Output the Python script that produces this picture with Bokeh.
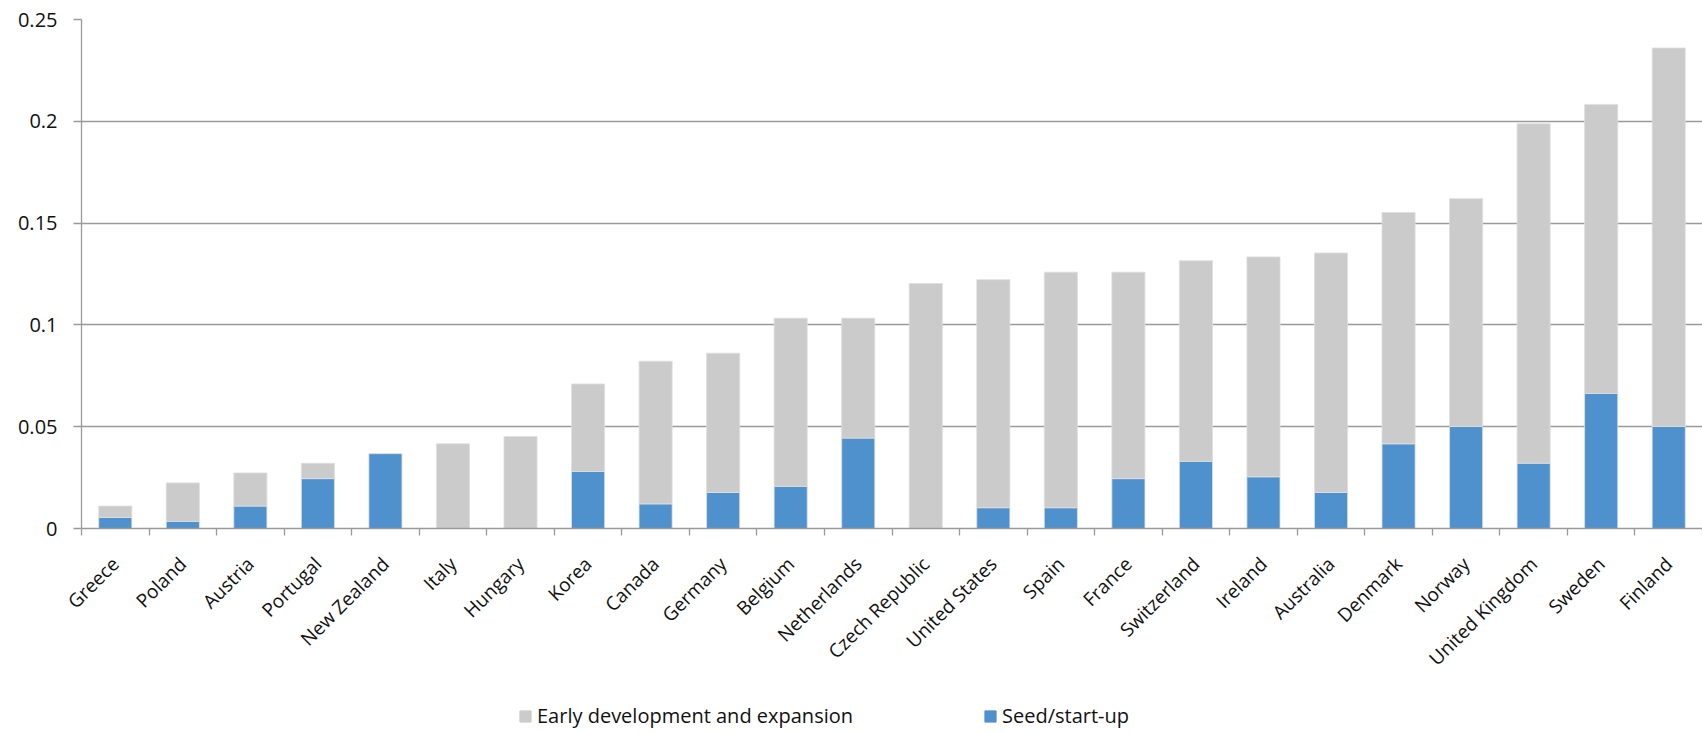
import math
from bokeh.plotting import figure
from bokeh.layouts import column
from bokeh.models import (ColumnDataSource, FixedTicker, Legend, LegendItem, Range1d)
from bokeh.embed import file_html
from bokeh.resources import INLINE

countries = ["Greece", "Poland", "Austria", "Portugal", "New Zealand", "Italy", "Hungary",
             "Korea", "Canada", "Germany", "Belgium", "Netherlands", "Czech Republic",
             "United States", "Spain", "France", "Switzerland", "Ireland", "Australia",
             "Denmark", "Norway", "United Kingdom", "Sweden", "Finland"]
seed = [0.0054, 0.0035, 0.0110, 0.0245, 0.0368, 0.0, 0.0, 0.0280, 0.0121, 0.0177,
        0.0207, 0.0444, 0.0, 0.0102, 0.0102, 0.0245, 0.0330, 0.0254, 0.0177, 0.0416,
        0.0501, 0.0321, 0.0663, 0.0501]
early = [0.0056, 0.0189, 0.0163, 0.0075, 0.0, 0.0416, 0.0452, 0.0430, 0.0701, 0.0684,
         0.0826, 0.0589, 0.1203, 0.1120, 0.1157, 0.1014, 0.0985, 0.1080, 0.1176, 0.1136,
         0.1119, 0.1667, 0.1420, 0.1859]
y_ticks = [0, 0.05, 0.1, 0.15, 0.2, 0.25]
y_labels = ["0", "0.05", "0.1", "0.15", "0.2", "0.25"]
legend_labels = ["Early development and expansion", "Seed/start-up"]

FONT = "Open Sans"
GRID = "#9a9a9a"
BLUE = "#4f91cd"
GRAY = "#cbcbcb"
TXT = "#111111"

idx = list(range(len(countries)))
src = ColumnDataSource(dict(x=idx, seed=seed, early=early))

p = figure(width=1702, height=693, output_backend="svg", toolbar_location=None,
           x_range=Range1d(-0.5, len(countries) - 0.5), y_range=Range1d(0, 0.25),
           min_border_left=81, min_border_right=0, min_border_top=19, min_border_bottom=165)
p.outline_line_color = None

rs = p.vbar_stack(["seed", "early"], x="x", width=0.49, source=src,
                  color=[BLUE, GRAY], line_color="#dedede", line_width=0.8)

p.xgrid.visible = False
p.ygrid.ticker = FixedTicker(ticks=y_ticks)
p.ygrid.grid_line_color = GRID
p.ygrid.grid_line_width = 1.3

p.yaxis.ticker = FixedTicker(ticks=y_ticks)
p.yaxis.major_label_overrides = {t: l for t, l in zip(y_ticks, y_labels)}
p.yaxis.axis_line_color = GRID
p.yaxis.axis_line_width = 1.3
p.yaxis.major_tick_line_color = GRID
p.yaxis.major_tick_line_width = 1.3
p.yaxis.major_tick_out = 8
p.yaxis.major_tick_in = 0
p.yaxis.minor_tick_line_color = None
p.yaxis.major_label_text_font = FONT
p.yaxis.major_label_text_font_size = "20px"
p.yaxis.major_label_text_color = TXT
p.yaxis.major_label_standoff = 16

p.xaxis.ticker = FixedTicker(ticks=idx, minor_ticks=[i - 0.5 for i in range(len(countries) + 1)])
p.xaxis.major_label_overrides = {i: c for i, c in enumerate(countries)}
p.xaxis.major_label_orientation = math.pi / 4
p.xaxis.axis_line_color = GRID
p.xaxis.axis_line_width = 1.3
p.xaxis.major_tick_line_color = None
p.xaxis.major_tick_out = 0
p.xaxis.major_tick_in = 0
p.xaxis.minor_tick_line_color = GRID
p.xaxis.minor_tick_line_width = 1.3
p.xaxis.minor_tick_out = 7
p.xaxis.minor_tick_in = 0
p.xaxis.major_label_text_font = FONT
p.xaxis.major_label_text_font_size = "19px"
p.xaxis.major_label_text_color = TXT
p.xaxis.major_label_standoff = 25

# legend strip below the chart
q = figure(width=1702, height=40, output_backend="svg", toolbar_location=None,
           x_axis_location=None, y_axis_location=None,
           x_range=Range1d(0, 1), y_range=Range1d(0, 1),
           min_border_left=81, min_border_right=0, min_border_top=0, min_border_bottom=0)
q.outline_line_color = None
q.grid.visible = False
g_early = q.rect(x=[-5], y=[-5], width=0.1, height=0.1, fill_color=GRAY, line_color=GRAY)
g_seed = q.rect(x=[-5], y=[-5], width=0.1, height=0.1, fill_color=BLUE, line_color=BLUE)

lg = Legend(items=[LegendItem(label=legend_labels[0], renderers=[g_early]),
                   LegendItem(label=legend_labels[1], renderers=[g_seed])],
            location=(437, 4), orientation="horizontal", padding=0, margin=0, spacing=130,
            border_line_color=None, background_fill_alpha=0,
            glyph_width=14, glyph_height=14, label_standoff=5,
            label_text_font=FONT, label_text_font_size="20px",
            label_text_color=TXT, label_height=20)
q.add_layout(lg, "center")

layout = column(p, q, spacing=0)
open("out.html", "w").write(file_html(layout, INLINE))
